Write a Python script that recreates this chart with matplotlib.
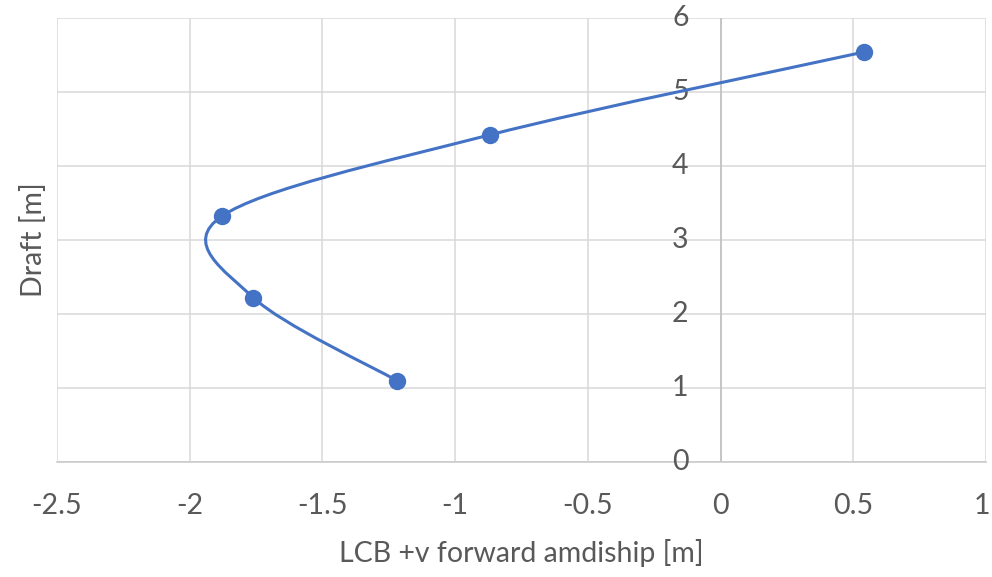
"""
LCB vs draft curve, excel style smoothed scatter
"""
import numpy as np
import matplotlib
matplotlib.use('Agg')
import matplotlib.pyplot as plt
import matplotlib.transforms as mtransforms
from matplotlib.path import Path
from matplotlib.patches import PathPatch

# data
lcb = [-1.22, -1.76, -1.88, -0.87, 0.54]
draft = [1.10, 2.22, 3.32, 4.42, 5.54]

x_ticks = [-2.5, -2, -1.5, -1, -0.5, 0, 0.5, 1]
x_tick_labels = ['-2.5', '-2', '-1.5', '-1', '-0.5', '0', '0.5', '1']
y_ticks = [0, 1, 2, 3, 4, 5, 6]

BLUE = '#4472C4'
TEXT = '#595959'
GRID = '#d9d9d9'
FS = 20.5

plt.rcParams['font.family'] = ['Lato', 'DejaVu Sans']


def smooth_path(xs, ys):
    """
    excel like smoothing: cubic bezier through every point
    """
    pts = np.column_stack([xs, ys])
    n = len(pts)
    verts = [pts[0]]
    codes = [Path.MOVETO]
    for i in range(n - 1):
        p0 = pts[i - 1] if i > 0 else pts[i]
        p1 = pts[i]
        p2 = pts[i + 1]
        p3 = pts[i + 2] if i + 2 < n else pts[i + 1]
        c1 = p1 + (p2 - p0) / 6.0
        c2 = p2 - (p3 - p1) / 6.0
        verts += [c1, c2, p2]
        codes += [Path.CURVE4] * 3
    return Path(verts, codes)


fig = plt.figure(figsize=(9.92, 5.77), dpi=100)
ax = fig.add_axes([0.0575, 0.1993, 0.9365, 0.7695])

ax.set_xlim(-2.5, 1)
ax.set_ylim(0, 6)
ax.set_xticks(x_ticks)
ax.set_xticklabels(x_tick_labels)
ax.set_yticks(y_ticks)

ax.grid(True, color=GRID, linewidth=1.1)
ax.set_axisbelow(True)
for side in ['top', 'right', 'left']:
    ax.spines[side].set_visible(False)
ax.spines['bottom'].set_color('#c8c8c8')
ax.spines['bottom'].set_linewidth(1.1)
ax.axvline(0, color='#bfbfbf', linewidth=1.1, zorder=1)

# y labels sit next to the vertical axis at x = 0
ax.tick_params(axis='both', length=0, labelsize=FS, labelcolor=TEXT)
ax.tick_params(axis='x', pad=22)
for label in ax.get_yticklabels():
    label.set_visible(False)
for y in y_ticks:
    ax.annotate(str(y), xy=(0, y), xytext=(-23, 0),
                textcoords='offset points', ha='right', va='center',
                fontsize=FS, color=TEXT, annotation_clip=False)

# keep last x label inside the figure
last = ax.get_xticklabels()[-1]
last.set_transform(last.get_transform() + mtransforms.ScaledTranslation(
    -3 / 72, 0, fig.dpi_scale_trans))

ax.add_patch(PathPatch(smooth_path(lcb, draft), facecolor='none',
                       edgecolor=BLUE, linewidth=2.2, zorder=3))
ax.plot(lcb, draft, linestyle='none', marker='o', markersize=11.5,
        color=BLUE, zorder=4, clip_on=False)

ax.set_xlabel('LCB +v forward amdiship [m]', fontsize=FS, color=TEXT,
              labelpad=15)
ax.set_ylabel('Draft [m]', fontsize=FS, color=TEXT)
ax.yaxis.set_label_coords(-0.011, 0.5)

fig.savefig('out.png', dpi=100)
